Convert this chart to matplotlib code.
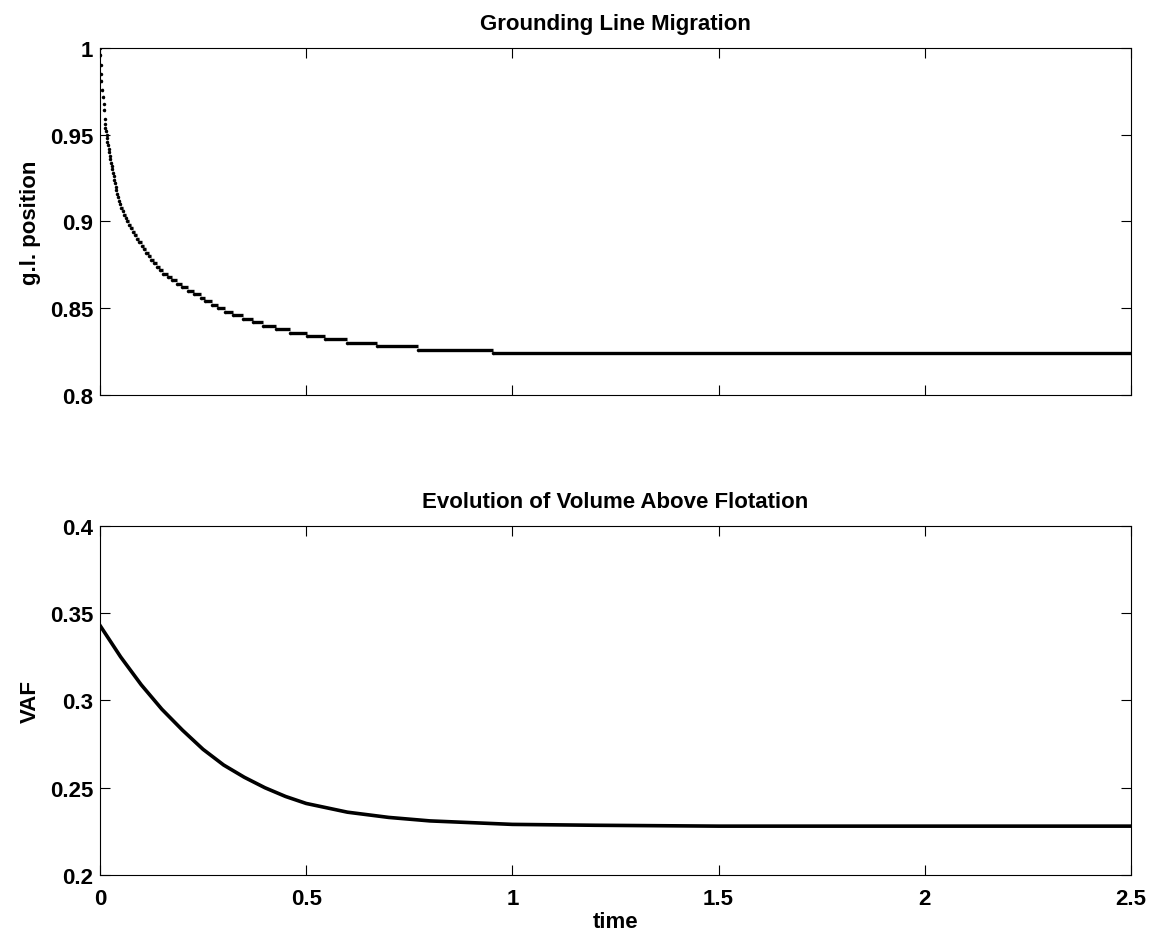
import matplotlib
matplotlib.use('Agg')
import matplotlib.pyplot as plt
import numpy as np
from matplotlib.ticker import FuncFormatter

plt.rcParams['font.family'] = ['Liberation Sans', 'DejaVu Sans']
plt.rcParams['font.weight'] = 'bold'

# grounding line: time at which each position is first reached
gl_time = [0.000, 0.001, 0.002, 0.002, 0.003, 0.005, 0.007, 0.009, 0.010, 0.011,
           0.012, 0.013, 0.015, 0.016, 0.017, 0.018, 0.020, 0.021, 0.022, 0.024,
           0.025, 0.027, 0.028, 0.029, 0.031, 0.033, 0.034, 0.036, 0.038, 0.040,
           0.041, 0.043, 0.045, 0.048, 0.052, 0.055, 0.058, 0.062, 0.065, 0.070,
           0.075, 0.079, 0.084, 0.089, 0.095, 0.101, 0.107, 0.112, 0.118, 0.124,
           0.131, 0.138, 0.146, 0.153, 0.164, 0.175, 0.186, 0.198, 0.213, 0.228,
           0.244, 0.255, 0.271, 0.287, 0.303, 0.323, 0.347, 0.372, 0.396, 0.428,
           0.461, 0.501, 0.546, 0.598, 0.671, 0.772, 0.953]
gl_pos = [1.000, 0.996, 0.990, 0.985, 0.981, 0.976, 0.972, 0.968, 0.964, 0.959,
          0.956, 0.954, 0.952, 0.950, 0.948, 0.946, 0.944, 0.942, 0.940, 0.938,
          0.936, 0.934, 0.932, 0.930, 0.928, 0.926, 0.924, 0.922, 0.920, 0.918,
          0.916, 0.914, 0.912, 0.910, 0.908, 0.906, 0.904, 0.902, 0.900, 0.898,
          0.896, 0.894, 0.892, 0.890, 0.888, 0.886, 0.884, 0.882, 0.880, 0.878,
          0.876, 0.874, 0.872, 0.870, 0.868, 0.866, 0.864, 0.862, 0.860, 0.858,
          0.856, 0.854, 0.852, 0.850, 0.848, 0.846, 0.844, 0.842, 0.840, 0.838,
          0.836, 0.834, 0.832, 0.830, 0.828, 0.826, 0.824]
t_end = 2.5

# volume above flotation
vaf_time = [0.0, 0.05, 0.1, 0.15, 0.2, 0.25, 0.3, 0.35, 0.4, 0.45, 0.5, 0.6,
            0.7, 0.8, 0.9, 1.0, 1.2, 1.5, 2.0, 2.5]
vaf = [0.343, 0.325, 0.309, 0.295, 0.283, 0.272, 0.263, 0.256, 0.250, 0.245,
       0.241, 0.236, 0.233, 0.231, 0.230, 0.229, 0.2285, 0.228, 0.228, 0.228]

fmt = FuncFormatter(lambda v, p: '%g' % round(v, 4))

fig = plt.figure(figsize=(11.64, 9.37), dpi=100)
ax1 = fig.add_axes([0.0859, 0.5774, 0.8857, 0.3703])
ax2 = fig.add_axes([0.0859, 0.0651, 0.8857, 0.3725])

# plateaus between jumps
ends = gl_time[1:] + [t_end]
ax1.hlines(gl_pos, gl_time, ends, color='k', lw=2.4)
ax1.plot(gl_time, gl_pos, 'o', color='k', ms=2.5, mew=0)
ax1.set_xlim(0, 2.5)
ax1.set_ylim(0.8, 1.0)
ax1.set_yticks([0.8, 0.85, 0.9, 0.95, 1.0])
ax1.set_xticks([0, 0.5, 1, 1.5, 2, 2.5])
ax1.set_xticklabels([])
ax1.set_ylabel('g.l. position', fontsize=16, fontweight='bold', labelpad=6)
ax1.set_title('Grounding Line Migration', fontsize=16, fontweight='bold', pad=14)

ax2.plot(vaf_time, vaf, color='k', lw=2.6)
ax2.set_xlim(0, 2.5)
ax2.set_ylim(0.2, 0.4)
ax2.set_yticks([0.2, 0.25, 0.3, 0.35, 0.4])
ax2.set_xticks([0, 0.5, 1, 1.5, 2, 2.5])
ax2.xaxis.set_major_formatter(fmt)
ax2.set_xlabel('time', fontsize=16, fontweight='bold', labelpad=2)
ax2.set_ylabel('VAF', fontsize=16, fontweight='bold', labelpad=6)
ax2.set_title('Evolution of Volume Above Flotation', fontsize=16, fontweight='bold', pad=14)

for ax in (ax1, ax2):
    ax.yaxis.set_major_formatter(fmt)
    ax.tick_params(direction='in', length=7, width=0.8, top=True, right=True,
                   labelsize=16, pad=5)
    ax.tick_params(axis='x', pad=9)
    for lab in ax.get_xticklabels() + ax.get_yticklabels():
        lab.set_fontweight('bold')
    for s in ax.spines.values():
        s.set_linewidth(0.8)

fig.savefig('out.png', dpi=100)
